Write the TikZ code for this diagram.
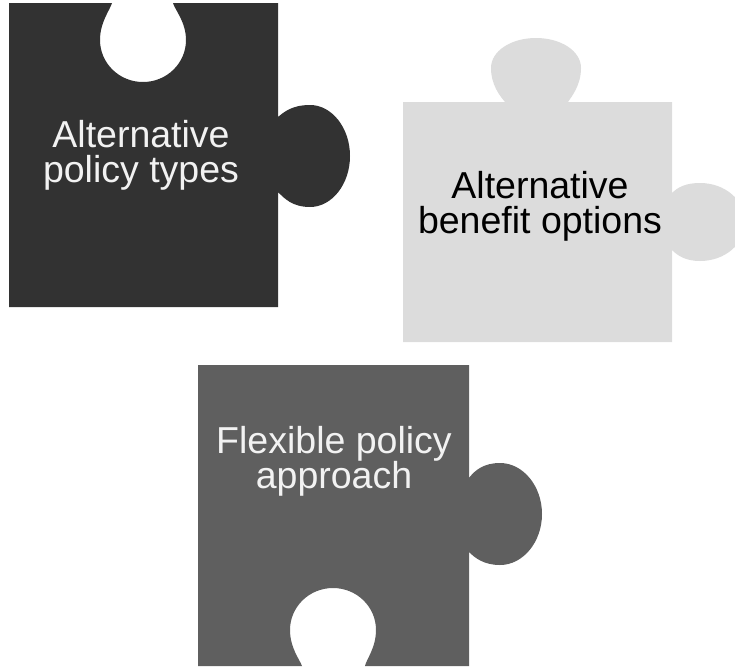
\documentclass[tikz,border=0pt]{standalone}
\usepackage{fontspec}
\setmainfont{Liberation Sans}
\definecolor{darkpiece}{HTML}{323232}
\definecolor{lightpiece}{HTML}{DCDCDC}
\definecolor{midpiece}{HTML}{5F5F5F}
\definecolor{paletext}{HTML}{F2F2F2}
\begin{document}
\begin{tikzpicture}[x=1pt,y=-1pt,
    piecetext/.style={align=center,inner sep=0pt,font=\fontsize{37.5}{35}\selectfont}]
    \useasboundingbox (0,0) rectangle (735,667);
    \clip (0,0) rectangle (735,667);

    \fill[darkpiece] (9,3) -- (112,3)
        .. controls (110,10) and (100,22) .. (100,40)
        .. controls (100,63) and (119,82) .. (143,82)
        .. controls (167,82) and (186,63) .. (186,40)
        .. controls (186,22) and (175,10) .. (173,3)
        -- (278,3) -- (278,117)
        .. controls (284,112) and (292,105) .. (310,105)
        .. controls (332,105) and (350,128) .. (350,156)
        .. controls (350,184) and (332,207) .. (310,207)
        .. controls (292,207) and (284,198) .. (278,192)
        -- (278,307) -- (9,307) -- cycle;

    \fill[lightpiece] (403,102) -- (505,102)
        .. controls (500,96) and (491,85) .. (491,68)
        .. controls (491,51) and (511,38) .. (536,38)
        .. controls (561,38) and (581,51) .. (581,68)
        .. controls (581,85) and (572,96) .. (568,102)
        -- (672,102) -- (672,193)
        .. controls (678,187) and (686,183) .. (700,183)
        .. controls (725,183) and (745,200) .. (745,222)
        .. controls (745,244) and (725,261) .. (700,261)
        .. controls (686,261) and (678,256) .. (672,250)
        -- (672,342) -- (403,342) -- cycle;

    \fill[midpiece] (198,365) -- (469,365) -- (469,478)
        .. controls (475,470) and (484,463) .. (500,463)
        .. controls (523,463) and (542,486) .. (542,514)
        .. controls (542,542) and (523,565) .. (500,565)
        .. controls (484,565) and (475,558) .. (469,552)
        -- (469,666) -- (365,666)
        .. controls (366,660) and (376,648) .. (376,630)
        .. controls (376,607) and (357,588) .. (333,588)
        .. controls (309,588) and (290,607) .. (290,630)
        .. controls (290,648) and (300,660) .. (302,666)
        -- (198,666) -- cycle;

    \node[piecetext,text=paletext] (types) at (141,155) {Alternative\\policy types};
    \node[piecetext,text=black] (benefits) at (540,206) {Alternative\\benefit options};
    \node[piecetext,text=paletext] (approach) at (334,461) {Flexible policy\\approach};
\end{tikzpicture}
\end{document}
